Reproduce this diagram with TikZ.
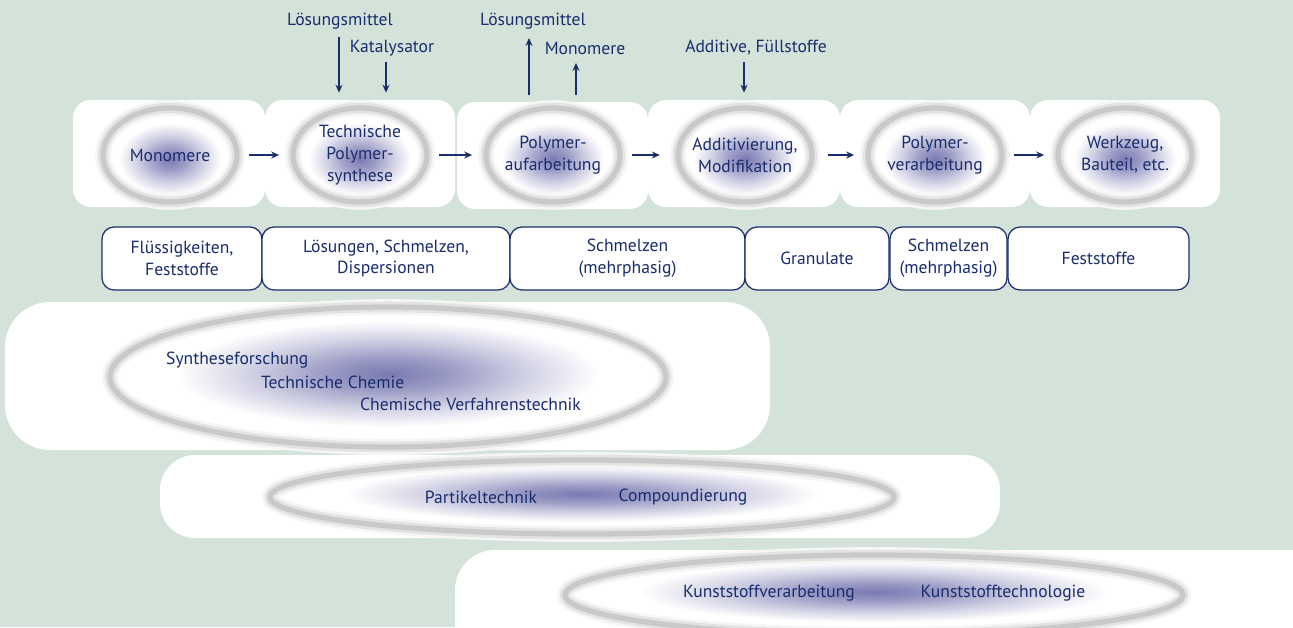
\documentclass[tikz,border=0pt]{standalone}
\usepackage{fontspec}
\setmainfont{PT Sans}
\usetikzlibrary{arrows.meta,shapes.geometric}
\definecolor{bgmint}{RGB}{211,227,217}
\definecolor{navy}{RGB}{25,45,110}
\definecolor{glowblue}{RGB}{122,122,178}
\pgfdeclareradialshading{glow}{\pgfpoint{0bp}{0bp}}{color(0bp)=(glowblue); color(6bp)=(glowblue!75!white); color(13bp)=(glowblue!35!white); color(20bp)=(white); color(50bp)=(white)}

\begin{document}
\begin{tikzpicture}[x=0.02cm,y=-0.02cm,
    txt/.style={text=navy,font=\fontsize{10}{12.5}\selectfont,align=center},
    topbox/.style={fill=white,rounded corners=0.36cm,minimum height=2.14cm,inner sep=0pt},
    phase/.style={txt,draw=navy,fill=white,line width=0.7pt,rounded corners=0.24cm,minimum height=1.26cm,inner sep=0pt},
    flow/.style={navy,line width=0.75pt,-{Stealth[length=4.5pt,width=4pt]}},
    ringsoft/.style={gray!8,line width=9pt},
    ringmid/.style={gray!22,line width=6pt},
    ringcore/.style={gray!42,line width=3pt}]
    % Background
    \fill[bgmint] (0,0) rectangle (1293,627);
    \clip (0,0) rectangle (1293,627);

    % Process steps - white boxes
    \foreach \n/\x/\y/\bw in {1/169/153.5/192,2/360/153.5/190,3/552.5/155.5/191,4/744/153.5/192,5/935/153.5/190,6/1125/153.5/190} {
        \node[topbox,minimum width=\bw*0.02cm] (b\n) at (\x,\y) {};
    }

    % Process steps - rings with glow
    \foreach \n/\x/\lbl in {1/170/{Monomere},2/360/{Technische\\Polymer-\\synthese},3/553/{Polymer-\\aufarbeitung},4/745/{Additivierung,\\Modifikation},5/935/{Polymer-\\verarbeitung},6/1125/{Werkzeug,\\Bauteil, etc.}} {
        \shade[shading=glow] (\x,159) ellipse [x radius=64,y radius=45];
        \foreach \s in {ringsoft,ringmid,ringcore}
            \draw[\s] (\x,155) ellipse [x radius=67,y radius=47];
        \node[txt,ellipse,minimum width=2.8cm,minimum height=1.96cm,inner sep=0pt] (e\n) at (\x,155) {\lbl};
    }

    % Flow between steps
    \foreach \a/\b in {1/2,2/3,3/4,4/5,5/6}
        \draw[flow,shorten <=5pt,shorten >=6pt] (e\a) -- (e\b);

    % Inputs and outputs
    \node[txt] (lm1) at (340,21) {Lösungsmittel};
    \node[txt] (kat) at (392,48) {Katalysator};
    \node[txt] (lm2) at (533,21) {Lösungsmittel};
    \node[txt] (mon) at (585,48) {Monomere};
    \node[txt] (add) at (756,48) {Additive, Füllstoffe};
    \coordinate (k1) at (339,37);
    \coordinate (k2) at (386,62);
    \coordinate (k3) at (529,38);
    \coordinate (k4) at (576,63);
    \coordinate (k5) at (744,62);
    \draw[flow,shorten >=4pt] (k1) -- (k1 |- b2.north);
    \draw[flow,shorten >=4pt] (k2) -- (k2 |- b2.north);
    \draw[flow,shorten <=4pt] (k3 |- b3.north) -- (k3);
    \draw[flow,shorten <=4pt] (k4 |- b3.north) -- (k4);
    \draw[flow,shorten >=4pt] (k5) -- (k5 |- b4.north);

    % States of matter
    \foreach \n/\x/\bw/\lbl in {1/182/160/{Flüssigkeiten,\\Feststoffe},2/386/248/{Lösungen, Schmelzen,\\Dispersionen},3/627.5/235/{Schmelzen\\(mehrphasig)},4/817/144/{Granulate},5/948.5/117/{Schmelzen\\(mehrphasig)},6/1098.5/181/{Feststoffe}} {
        \node[phase,minimum width=\bw*0.02cm] (c\n) at (\x,258.5) {\lbl};
    }

    % Disciplines - boxes
    \fill[white,rounded corners=0.9cm] (5,302) rectangle (770,450);
    \fill[white,rounded corners=0.7cm] (160,455) rectangle (1000,538);
    \fill[white,rounded corners=0.8cm] (455,550) rectangle (1340,680);

    % Disciplines - rings with glow
    \foreach \x/\y/\rx/\ry in {388/377/278/70,582/497/312/37,874/595/309/40} {
        \shade[shading=glow] (\x,\y-3) ellipse [x radius=0.95*\rx,y radius=0.95*\ry];
        \foreach \s in {ringsoft,ringmid,ringcore}
            \draw[\s] (\x,\y) ellipse [x radius=\rx,y radius=\ry];
    }

    % Disciplines - texts
    \node[txt,anchor=west] (syn) at (160,360) {Syntheseforschung};
    \node[txt,anchor=west] (tch) at (255,382) {Technische Chemie};
    \node[txt,anchor=west] (cvt) at (354,404) {Chemische Verfahrenstechnik};
    \node[txt] (par) at (481,497) {Partikeltechnik};
    \node[txt] (cmp) at (683,497) {Compoundierung};
    \node[txt] (kva) at (769,593) {Kunststoffverarbeitung};
    \node[txt] (kte) at (1003,593) {Kunststofftechnologie};
\end{tikzpicture}
\end{document}
